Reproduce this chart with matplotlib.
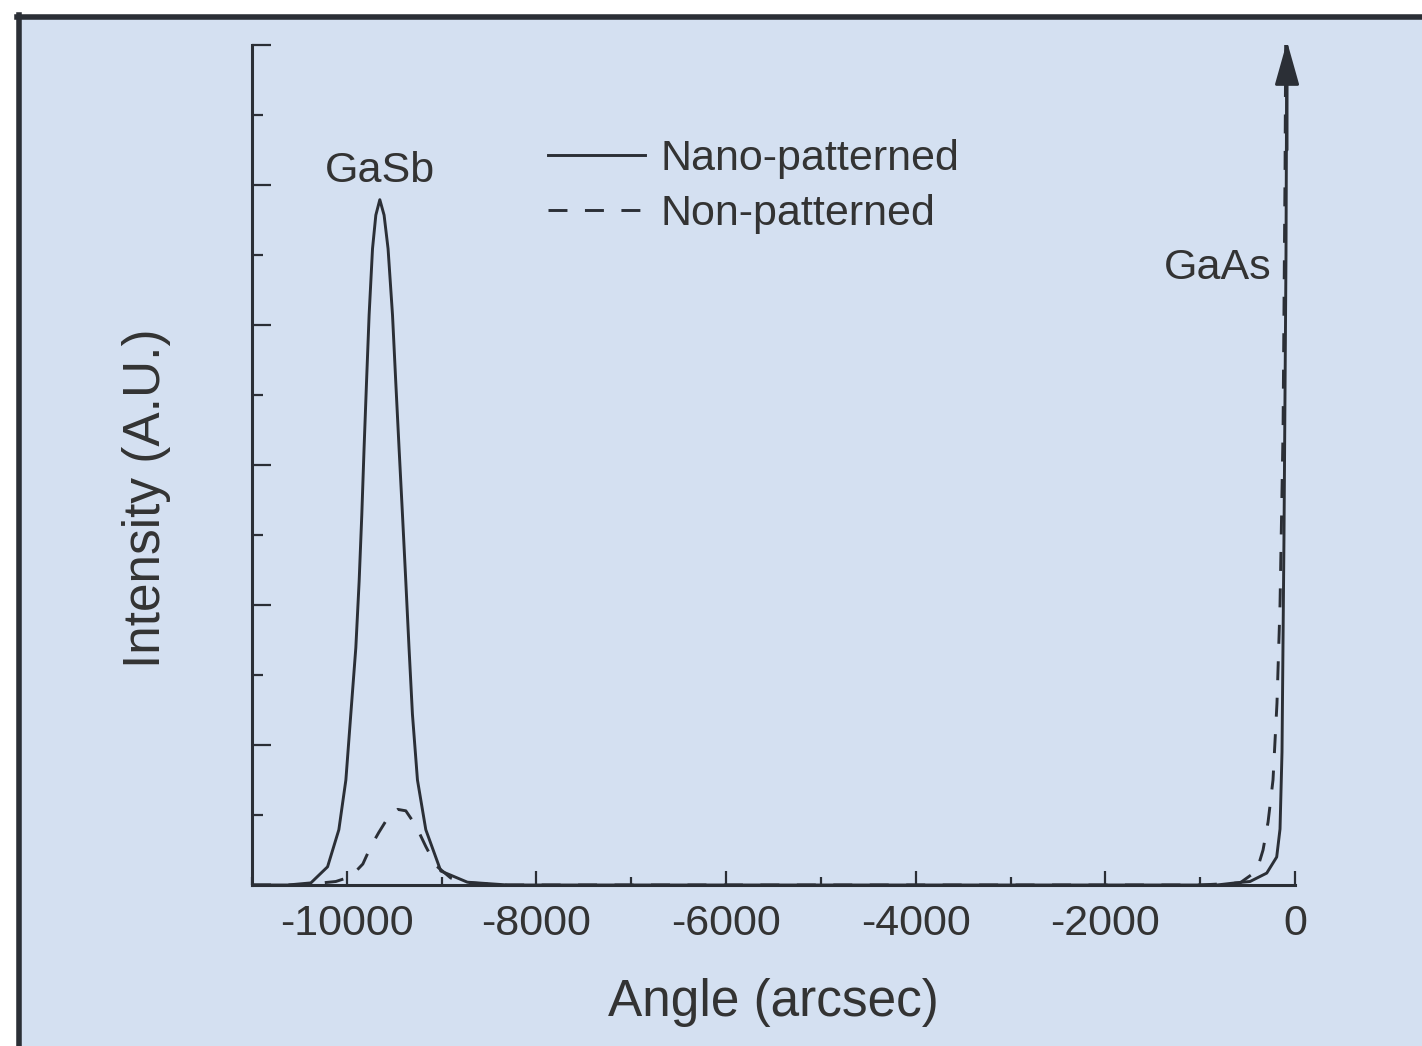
import matplotlib
matplotlib.use("Agg")
import matplotlib.pyplot as plt
from matplotlib.patches import Rectangle
from matplotlib.ticker import MultipleLocator

# values (angle in arcsec, intensity in arbitrary units)
nano_x = [-11000, -10622, -10379, -10203, -10084, -10010, -9958, -9905, -9870, -9842,
          -9818, -9792, -9765, -9729, -9694, -9652, -9607, -9565, -9518, -9484,
          -9449, -9413, -9378, -9344, -9308, -9255, -9167, -9009, -8728, -8303,
          -7000, -5000, -3000, -1528, -825, -632, -474, -298, -193, -158,
          -137, -116, -95, -84]
nano_y = [0, 0.0, 0.03, 0.26, 0.79, 1.5, 2.44, 3.39, 4.34, 5.29,
          6.24, 7.19, 8.14, 9.09, 9.57, 9.79, 9.57, 9.09, 8.14, 7.19,
          6.24, 5.29, 4.34, 3.39, 2.44, 1.5, 0.79, 0.2, 0.04, 0,
          0, 0, 0, 0, 0.0, 0.03, 0.05, 0.17, 0.4, 0.8,
          1.9, 5, 9, 13]

non_x = [-11000, -10484, -10116, -9958, -9831, -9747, -9663, -9558, -9463, -9378,
         -9273, -9167, -9062, -8904, -8693, -8377, -6000, -3000, -1001, -580,
         -404, -337, -284, -232, -190, -158, -126, -105, -95]
non_y = [0, 0, 0.05, 0.12, 0.3, 0.55, 0.75, 0.98, 1.08, 1.06,
         0.85, 0.55, 0.28, 0.1, 0.03, 0, 0, 0, 0, 0.03,
         0.2, 0.5, 0.9, 1.5, 2.6, 4.0, 6.5, 10.2, 13]

series_names = ["Nano-patterned", "Non-patterned"]
xtick_vals = [-10000, -8000, -6000, -4000, -2000, 0]
gasb_label = (-9650, 9.92)
gaas_label = (-250, 8.81)
arrow_x = -84

bg = "#d4e0f1"
ink = "#2b2f36"
txt = "#333333"

plt.rcParams['font.family'] = ['Liberation Sans', 'DejaVu Sans']
plt.rcParams['axes.unicode_minus'] = False

fig = plt.figure(figsize=(14.22, 10.46), dpi=100)
fig.patch.set_facecolor("white")
# blue panel with dark frame on top/left
fig.patches.append(Rectangle((17 / 1422, 0), 1 - 17 / 1422, 1 - 17 / 1046,
                             transform=fig.transFigure, facecolor=bg, edgecolor="none", zorder=-2))
fig.lines.append(plt.Line2D([19 / 1422, 19 / 1422], [0, 1 - 15 / 1046], transform=fig.transFigure,
                            color=ink, lw=4, zorder=-1))
fig.lines.append(plt.Line2D([17 / 1422, 1], [1 - 17 / 1046, 1 - 17 / 1046], transform=fig.transFigure,
                            color=ink, lw=4, zorder=-1))

ax = fig.add_axes([252 / 1422, 161 / 1046, 1043 / 1422, 840 / 1046])
ax.set_facecolor("none")
ax.set_zorder(1)

ax.plot(nano_x, nano_y, color=ink, lw=2.1, label=series_names[0])
ax.plot(non_x, non_y, color=ink, lw=2.1, dashes=(6.5, 6), label=series_names[1])

ax.annotate("", xy=(arrow_x, 12.05), xytext=(arrow_x, 10.5), annotation_clip=False,
            arrowprops=dict(arrowstyle="-|>,head_length=1.35,head_width=0.38",
                            mutation_scale=20, color=ink, lw=2.1, shrinkA=0, shrinkB=0))

ax.set_xlim(-11000, 0)
ax.set_ylim(0, 12)
ax.spines['top'].set_visible(False)
ax.spines['right'].set_visible(False)
for s in ['left', 'bottom']:
    ax.spines[s].set_linewidth(2.2)
    ax.spines[s].set_color(ink)

ax.set_xticks(xtick_vals)
ax.xaxis.set_minor_locator(MultipleLocator(1000))
ax.yaxis.set_major_locator(MultipleLocator(2))
ax.yaxis.set_minor_locator(MultipleLocator(1))
ax.set_yticklabels([])
ax.tick_params(which='both', direction='in', color=ink, width=1.6, labelsize=31, labelcolor=txt)
ax.tick_params(axis='x', which='major', length=10, pad=14)
ax.tick_params(axis='x', which='minor', length=6)
ax.tick_params(axis='y', which='major', length=14)
ax.tick_params(axis='y', which='minor', length=8)

ax.set_xlabel("Angle (arcsec)", fontsize=37, color=txt)
ax.set_ylabel("Intensity (A.U.)", fontsize=37, color=txt)
ax.xaxis.set_label_coords(0.5, -0.111)
ax.xaxis.label.set_va('top')
ax.yaxis.set_label_coords(-0.078, 0.46)

ax.text(gasb_label[0], gasb_label[1], "GaSb", fontsize=31, color=txt, ha='center', va='bottom')
ax.text(gaas_label[0], gaas_label[1], "GaAs", fontsize=31, color=txt, ha='right', va='center')

ax.legend(loc='upper left', bbox_to_anchor=(0.284, 0.888), frameon=False, fontsize=31,
          handlelength=2.25, handletextpad=0.35, labelspacing=0.35, borderpad=0,
          borderaxespad=0, labelcolor=txt)

fig.savefig("out.png", dpi=100, facecolor=fig.get_facecolor())
